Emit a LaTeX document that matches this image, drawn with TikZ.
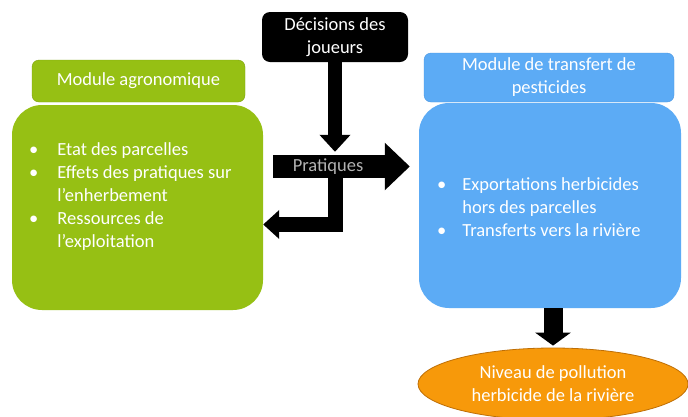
\documentclass[tikz,border=0pt]{standalone}
\usepackage{fontspec}
\setmainfont{Carlito}
\usepackage{xcolor}
\usetikzlibrary{arrows.meta,shapes.geometric}
\definecolor{agrogreen}{RGB}{150,192,20}
\definecolor{agrogreenedge}{RGB}{125,162,15}
\definecolor{transblue}{RGB}{92,171,245}
\definecolor{transblueedge}{RGB}{75,150,225}
\definecolor{polorange}{RGB}{247,153,10}
\definecolor{poledge}{RGB}{190,110,5}
\newcommand{\bul}{\textbullet}

\begin{document}
\begin{tikzpicture}[x=1pt,y=-1pt,
    every node/.style={text=white,font=\fontsize{18.5}{23}\selectfont,align=center,inner sep=0pt},
    headbox/.style={rounded corners=7pt,draw=#1edge,fill=#1},
    bodybox/.style={rounded corners=30pt,fill=#1},
    bullets/.style={align=left,anchor=base west},
    blk/.style={draw=black,line join=miter}]
  \useasboundingbox[fill=white] (0,0) rectangle (688,416);
  % boxes
  \node[rounded corners=8pt,fill=black,minimum width=146pt,minimum height=50pt] (dec) at (335,37) {D\'ecisions des\\joueurs};
  \node[headbox=agrogreen,minimum width=213pt,minimum height=42pt] (agrohead) at (138.5,81) {Module agronomique};
  \node[bodybox=agrogreen,minimum width=251pt,minimum height=205pt] (agro) at (137.5,207.5) {};
  \node[headbox=transblue,minimum width=250pt,minimum height=49pt] (transhead) at (549,77.5) {Module de transfert de\\pesticides};
  \node[bodybox=transblue,minimum width=262pt,minimum height=205pt] (trans) at (550,205.5) {};
  \node[ellipse,draw=poledge,thick,fill=polorange,minimum width=270pt,minimum height=72pt] (pol) at (553,384) {Niveau de pollution\\herbicide de la rivi\`ere};
  \node[fill=black,text=white!70!black,minimum width=110pt,minimum height=23pt] (prat) at (328,166.5) {Pratiques};
  % lists
  \node[bullets] (agrolist) at (29,155) {\begin{tabular}[t]{@{}l@{\hspace{19pt}}l@{}}
      \bul & Etat des parcelles\\
      \bul & Effets des pratiques sur\\
          & l'enherbement\\
      \bul & Ressources de\\
          & l'exploitation
    \end{tabular}};
  \node[bullets] (translist) at (437,190) {\begin{tabular}[t]{@{}l@{\hspace{16pt}}l@{}}
      \bul & Exportations herbicides\\
          & hors des parcelles\\
      \bul & Transferts vers la rivi\`ere
    \end{tabular}};
  % arrows
  \draw[blk,line width=14pt,-{Triangle[length=17pt,width=30pt]}] (dec.south) -- ([yshift=3pt]dec.south |- prat.north);
  \draw[blk,line width=23pt,shorten >=9pt,-{Triangle[length=25pt,width=46pt]}] (prat.east) -- (prat.east -| trans.west);
  \draw[blk,line width=15pt,-{Triangle[length=16pt,width=28pt]}] (dec.south |- prat.south) |- ([yshift=-17pt]agro.east);
  \draw[blk,line width=19pt,-{Triangle[length=13pt,width=35pt]}] (pol.north |- trans.south) -- ([yshift=2pt]pol.north);
\end{tikzpicture}
\end{document}
